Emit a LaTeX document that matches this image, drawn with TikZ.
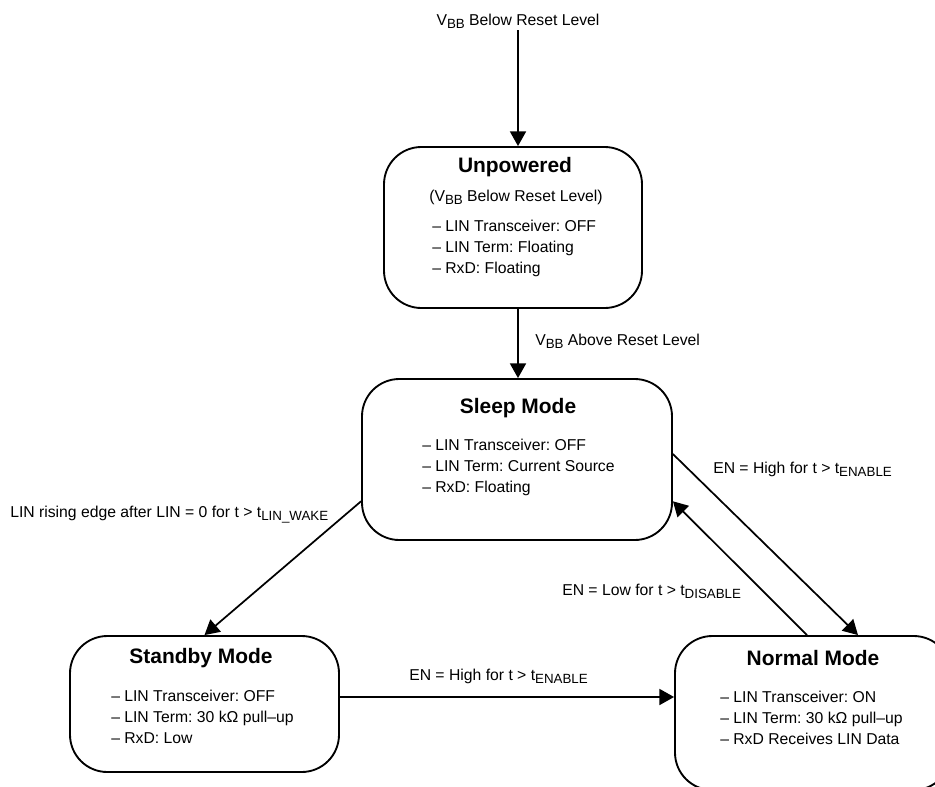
\documentclass[tikz,border=0pt]{standalone}
\usepackage{fontspec}
\setmainfont{Liberation Sans}
\usetikzlibrary{arrows.meta}
\usetikzlibrary{positioning}

\newcommand{\subtext}[1]{\raisebox{-2.3pt}{\fontsize{10}{12}\selectfont #1}}

\tikzset{
    statebox/.style={draw, line width=1.4pt, rounded corners=28pt, inner sep=0pt},
    statename/.style={font=\fontsize{15.7}{19}\selectfont\bfseries, inner sep=0pt, anchor=base},
    statelist/.style={font=\fontsize{11.8}{15.75}\selectfont, align=left, inner sep=0pt, anchor=north west},
    translabel/.style={font=\fontsize{11.8}{14}\selectfont, inner sep=0pt, anchor=base west},
    trans/.style={line width=1.3pt, -{Triangle[length=11pt,width=12pt]}}
}

\begin{document}
\frenchspacing
\begin{tikzpicture}[x=0.75pt, y=-0.75pt]
    \useasboundingbox (0,0) rectangle (935,786);
    \clip (0,0) rectangle (935,786);

    % states
    \node[statebox, minimum width=193.5pt, minimum height=120.75pt] (unpowered) at (513,227.5) {};
    \node[statebox, minimum width=232.5pt, minimum height=120.75pt] (sleep) at (517,459.5) {};
    \node[statebox, minimum width=201.75pt, minimum height=102pt] (standby) at (204.5,704) {};
    \node[statebox, minimum width=207pt, minimum height=115.5pt] (normal) at (813,713) {};

    \node[statename] (unpowered-name) at (515,172.5) {Unpowered};
    \node[translabel, anchor=base] (unpowered-note) at (516,201) {(V\subtext{BB} Below Reset Level)};
    \node[statelist] (unpowered-list) at (432,219.5) {– LIN Transceiver: OFF\\– LIN Term: Floating\\– RxD: Floating};

    \node[statename] (sleep-name) at (518,413) {Sleep Mode};
    \node[statelist] (sleep-list) at (422,438.5) {– LIN Transceiver: OFF\\– LIN Term: Current Source\\– RxD: Floating};

    \node[statename] (standby-name) at (201,663) {Standby Mode};
    \node[statelist] (standby-list) at (111,689.5) {– LIN Transceiver: OFF\\– LIN Term: 30 kΩ pull–up\\– RxD: Low};

    \node[statename] (normal-name) at (813,665) {Normal Mode};
    \node[statelist] (normal-list) at (720,690.5) {– LIN Transceiver: ON\\– LIN Term: 30 kΩ pull–up\\– RxD Receives LIN Data};

    % transitions
    \node[translabel, anchor=base] (reset-low) at (518,25) {V\subtext{BB} Below Reset Level};
    \node[translabel] (reset-high) at (535,345) {V\subtext{BB} Above Reset Level};
    \node[translabel] (lin-wake) at (10,517) {LIN rising edge after LIN = 0 for t > t\subtext{LIN\_WAKE}};
    \node[translabel] (en-high-sleep) at (713,473) {EN = High for t > t\subtext{ENABLE}};
    \node[translabel] (en-low) at (562,595) {EN = Low for t > t\subtext{DISABLE}};
    \node[translabel] (en-high-standby) at (409,680) {EN = High for t > t\subtext{ENABLE}};

    \draw[trans] (reset-low.south) ++(0,-1.5pt) -- (reset-low.south |- unpowered.north);
    \draw[trans] (unpowered.south -| reset-low) -- (sleep.north -| reset-low);
    \draw[trans] (sleep.195) -- (standby.north);
    \draw[trans] (sleep.2) -- ([xshift=33.75pt]normal.north);
    \draw[trans] ([xshift=-4.5pt]normal.north) -- (sleep.345);
    \draw[trans] ([yshift=5.25pt]standby.east) -- ([yshift=5.25pt]standby.east -| normal.west);
\end{tikzpicture}
\end{document}
